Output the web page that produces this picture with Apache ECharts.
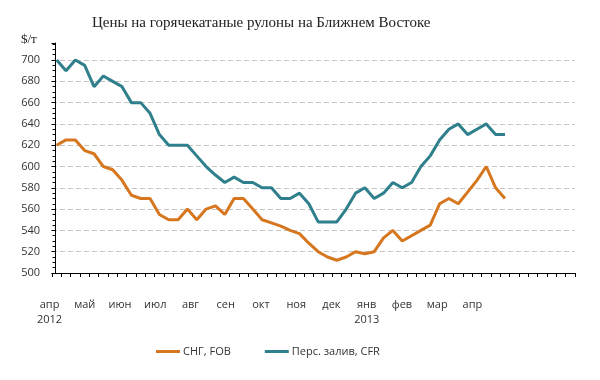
<!DOCTYPE html>
<html>
<head>
<meta charset="utf-8">
<script src="https://cdn.jsdelivr.net/npm/echarts@6/dist/echarts.min.js"></script>
<style>html,body{margin:0;padding:0;background:#fff}#c{width:600px;height:380px}</style>
</head>
<body>
<div id="c"></div>
<script>
// weekly categories (56 weeks on the axis, 49 with data)
const weeks = Array.from({length: 56}, (_, i) => 'w' + (i + 1));
const cisFob = [620,625,625,615,612,600,597,587,573,570,570,555,550,550,560,550,560,563,555,570,570,560,550,547,544,540,537,528,520,515,512,515,520,518,520,533,540,530,535,540,545,565,570,565,576,587,600,580,570];
const gulfCfr = [700,690,700,695,675,685,680,675,660,660,650,630,620,620,620,610,600,592,585,590,585,585,580,580,570,570,575,565,548,548,548,560,575,580,570,575,585,580,585,600,610,625,635,640,630,635,640,630,630];
const monthLabels = ['апр\n2012','май','июн','июл','авг','сен','окт','ноя','дек','янв\n2013','фев','мар','апр'];
const monthPos = [0,1,2,3,4,5,6,7,8,9,10,11,12];
const yTicks = [500,520,540,560,580,600,620,640,660,680,700];
const seriesNames = ['СНГ, FOB', 'Перс. залив, CFR'];

const chart = echarts.init(document.getElementById('c'), null, {renderer: 'canvas'});
const font = 'Open Sans';
chart.setOption({
  animation: false,
  backgroundColor: '#fff',
  title: [
    {text: 'Цены на горячекатаные рулоны на Ближнем Востоке', left: 87, top: 11,
     textStyle: {fontFamily: 'Liberation Serif', fontSize: 15, fontWeight: 'normal', color: '#222'}},
    {text: '$/т', left: 16, top: 28,
     textStyle: {fontFamily: 'Liberation Serif', fontSize: 13, fontWeight: 'normal', color: '#222'}}
  ],
  legend: {
    data: seriesNames, left: 151, top: 341, itemGap: 34, itemWidth: 24, itemHeight: 3,
    icon: 'rect',
    textStyle: {fontFamily: font, fontSize: 11, color: '#333', padding: [0,0,0,-2]}
  },
  grid: {left: 52, right: 25, top: 43, bottom: 107, containLabel: false},
  xAxis: [
    {type: 'category', data: weeks, boundaryGap: true,
     axisLine: {lineStyle: {color: '#000', width: 1}},
     axisTick: {show: true, interval: 0, length: 4, lineStyle: {color: '#000'}},
     axisLabel: {show: false}, splitLine: {show: false}},
    {type: 'value', min: -0.1, max: 14.74, position: 'bottom',
     axisLine: {show: false}, axisTick: {show: false}, splitLine: {show: false},
     axisLabel: {customValues: monthPos, margin: 24, fontFamily: font, fontSize: 11,
       color: '#333', lineHeight: 15, padding: [0, 12, 0, 0],
       formatter: v => monthLabels[Math.round(v)] || ''}}
  ],
  yAxis: {
    type: 'value', min: 500, max: 716, interval: 20,
    axisLine: {show: true, lineStyle: {color: '#000'}},
    axisTick: {show: true, length: 4, lineStyle: {color: '#000'}},
    minorTick: {show: true, splitNumber: 4, length: 3, lineStyle: {color: '#000'}},
    axisLabel: {customValues: yTicks, margin: 12, fontFamily: font, fontSize: 11, color: '#333'},
    splitLine: {show: true, showMaxLine: false, showMinLine: false, lineStyle: {type: [5, 3], color: '#c4c4c4'}}
  },
  series: [
    {name: seriesNames[0], type: 'line', data: cisFob, symbol: 'none', smooth: false,
     itemStyle: {color: '#D6771F'}, lineStyle: {width: 3, color: '#D6771F'}, z: 3},
    {name: seriesNames[1], type: 'line', data: gulfCfr, symbol: 'none', smooth: false,
     itemStyle: {color: '#2F7F8C'}, lineStyle: {width: 3, color: '#2F7F8C'}, z: 4}
  ]
});
</script>
</body>
</html>
